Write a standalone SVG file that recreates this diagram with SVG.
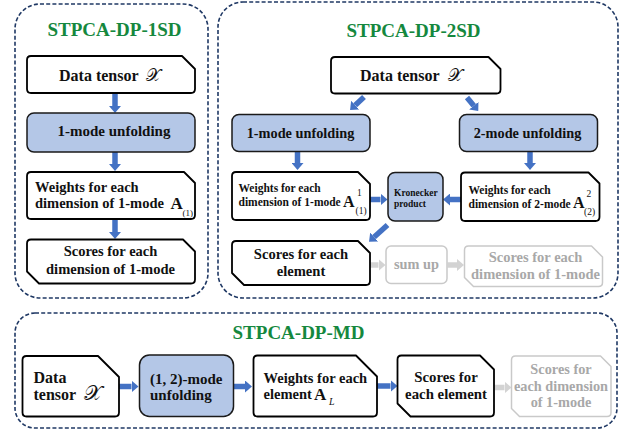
<svg xmlns="http://www.w3.org/2000/svg" width="628" height="435" viewBox="0 0 628 435">
  <defs>
    <marker id="ah" markerUnits="userSpaceOnUse" markerWidth="7" markerHeight="12" viewBox="0 0 7 12" refX="0" refY="6" orient="auto">
      <path d="M0,0 L7,6 L0,12 z" fill="#4472c4"/>
    </marker>
    <marker id="gh" markerUnits="userSpaceOnUse" markerWidth="7" markerHeight="12" viewBox="0 0 7 12" refX="0" refY="6" orient="auto">
      <path d="M0,0 L7,6 L0,12 z" fill="#d3d3d3"/>
    </marker>
  </defs>
  <style>
    .frame { fill: none; stroke: #1f3864; stroke-width: 1.6; stroke-dasharray: 4 2.2; }
    .title { font-family: "Liberation Serif", serif; font-weight: bold; font-size: 19px; fill: #15883e; text-anchor: middle; }
    .box { fill: #ffffff; stroke: #000000; stroke-width: 1.8; stroke-linejoin: round; }
    .proc { fill: #b4c7e7; stroke: #1a1a1a; stroke-width: 1.5; }
    .ghost { fill: #ffffff; stroke: #c9c9c9; stroke-width: 1.5; stroke-linejoin: round; }
    .t { font-family: "Liberation Serif", serif; font-weight: bold; fill: #111111; }
    .mid { text-anchor: middle; }
    .gt { fill: #a8a8a8; }
    .scr { font-family: "DejaVu Serif", "DejaVu Sans", serif; font-weight: normal; }
    .sub { font-weight: normal; }
    .arrow { stroke: #4472c4; stroke-width: 5.5; fill: none; marker-end: url(#ah); }
    .garrow { stroke: #d3d3d3; stroke-width: 5.5; fill: none; marker-end: url(#gh); }
  </style>

  <!-- dashed panels -->
  <g id="panels">
    <rect class="frame" x="15" y="4" width="193" height="294" rx="25"/>
    <rect class="frame" x="218" y="2" width="400" height="296" rx="25"/>
    <rect class="frame" x="15" y="313" width="602" height="115" rx="20"/>
    <text class="title" x="114.5" y="36">STPCA-DP-1SD</text>
    <text class="title" x="413.5" y="37">STPCA-DP-2SD</text>
    <text class="title" x="298.5" y="339">STPCA-DP-MD</text>
  </g>

  <!-- connectors -->
  <g id="connectors">
    <!-- 1SD column -->
    <line class="arrow" x1="115" y1="94" x2="115" y2="106"/>
    <line class="arrow" x1="115" y1="152" x2="115" y2="164"/>
    <line class="arrow" x1="115" y1="220" x2="115" y2="232"/>
    <!-- 2SD -->
    <line class="arrow" x1="364" y1="97" x2="355.2" y2="105.2"/>
    <line class="arrow" x1="467" y1="97.5" x2="473.8" y2="105.7"/>
    <line class="arrow" x1="297.5" y1="152" x2="297.5" y2="163"/>
    <line class="arrow" x1="530" y1="152" x2="530" y2="163"/>
    <line class="arrow" x1="370" y1="199.5" x2="380.5" y2="199.5"/>
    <line class="arrow" x1="461" y1="199.5" x2="450" y2="199.5"/>
    <line class="arrow" x1="387.5" y1="225" x2="374.2" y2="237"/>
    <line class="garrow" x1="370.5" y1="265" x2="378.5" y2="265"/>
    <line class="garrow" x1="447.5" y1="265" x2="457" y2="265"/>
    <!-- MD row -->
    <line class="arrow" x1="119" y1="386.5" x2="131.5" y2="386.5"/>
    <line class="arrow" x1="233.5" y1="386.5" x2="245" y2="386.5"/>
    <line class="arrow" x1="377" y1="386" x2="390.5" y2="386"/>
    <line class="garrow" x1="494.5" y1="387.5" x2="504.5" y2="387.5"/>
  </g>

  <!-- STPCA-DP-1SD -->
  <g id="sd1-data">
    <path class="box" d="M31,56 L182,56 L195,69 L195,89 Q195,93 191,93 L31,93 Q27,93 27,89 L27,60 Q27,56 31,56 Z"/>
    <text class="t" x="59" y="81" font-size="16">Data tensor<tspan class="scr" x="146" font-size="17">𝒳</tspan></text>
  </g>
  <g id="sd1-unfold">
    <rect class="proc" x="27" y="113" width="168" height="39" rx="7"/>
    <text class="t mid" x="114" y="136" font-size="15">1-mode unfolding</text>
  </g>
  <g id="sd1-weights">
    <path class="box" d="M31,172 L184,172 L195,183 L195,215 Q195,219 191,219 L31,219 Q27,219 27,215 L27,176 Q27,172 31,172 Z"/>
    <text class="t" x="35" y="191.5" font-size="14.5">Weights for each</text>
    <text class="t" x="35" y="208" font-size="14.5">dimension of 1-mode</text>
    <text class="t" x="170.5" y="208.5" font-size="17">A</text>
    <text class="t sub" x="182.5" y="215.5" font-size="9">(1)</text>
  </g>
  <g id="sd1-scores">
    <path class="box" d="M31,239.5 L183,239.5 L195,251.5 L195,279.5 Q195,283.5 191,283.5 L39,283.5 L27,271.5 L27,243.5 Q27,239.5 31,239.5 Z"/>
    <text class="t mid" x="110.5" y="256" font-size="14.5">Scores for each</text>
    <text class="t mid" x="110.5" y="273.5" font-size="14.5">dimension of 1-mode</text>
  </g>

  <!-- STPCA-DP-2SD -->
  <g id="sd2-data">
    <path class="box" d="M335,57 L488.5,57 L500.5,69 L500.5,89.5 Q500.5,93.5 496.5,93.5 L335,93.5 Q331,93.5 331,89.5 L331,61 Q331,57 335,57 Z"/>
    <text class="t" x="360" y="81" font-size="16">Data tensor<tspan class="scr" x="447.5" font-size="17">𝒳</tspan></text>
  </g>
  <g id="sd2-unfold1">
    <rect class="proc" x="232" y="114.5" width="138" height="37" rx="7"/>
    <text class="t mid" x="300.5" y="137.5" font-size="14.3">1-mode unfolding</text>
  </g>
  <g id="sd2-unfold2">
    <rect class="proc" x="459.5" y="114.5" width="138" height="37" rx="7"/>
    <text class="t mid" x="527.5" y="137.5" font-size="14.3">2-mode unfolding</text>
  </g>
  <g id="sd2-weights1">
    <path class="box" d="M236,172 L358,172 L370,184 L370,216 Q370,220 366,220 L236,220 Q232,220 232,216 L232,176 Q232,172 236,172 Z"/>
    <text class="t" x="238.5" y="192" font-size="11.5">Weights for each</text>
    <text class="t" x="238.5" y="205.5" font-size="11.5">dimension of 1-mode</text>
    <text class="t" x="343" y="206.5" font-size="16">A</text>
    <text class="t sub" x="357" y="195.5" font-size="9.5">1</text>
    <text class="t sub" x="355.5" y="213.5" font-size="9.5">(1)</text>
  </g>
  <g id="sd2-kron">
    <rect class="proc" x="388" y="172.5" width="55" height="48.5" rx="7"/>
    <text class="t" x="394" y="195.5" font-size="9.5">Kronecker</text>
    <text class="t" x="394" y="207" font-size="9.5">product</text>
  </g>
  <g id="sd2-weights2">
    <path class="box" d="M465,172.5 L588.5,172.5 L599.5,183.5 L599.5,217 Q599.5,221 595.5,221 L465,221 Q461,221 461,217 L461,176.5 Q461,172.5 465,172.5 Z"/>
    <text class="t" x="468.5" y="194" font-size="11.5">Weights for each</text>
    <text class="t" x="468.5" y="207.5" font-size="11.5">dimension of 2-mode</text>
    <text class="t" x="573" y="208" font-size="16">A</text>
    <text class="t sub" x="586.5" y="196.5" font-size="9.5">2</text>
    <text class="t sub" x="584" y="214.5" font-size="9.5">(2)</text>
  </g>
  <g id="sd2-scores">
    <path class="box" d="M236,241 L358,241 L370,253 L370,281 Q370,285 366,285 L244,285 L232,273 L232,245 Q232,241 236,241 Z"/>
    <text class="t mid" x="301" y="259" font-size="14.6">Scores for each</text>
    <text class="t mid" x="301" y="275.5" font-size="14.6">element</text>
  </g>
  <g id="sd2-sum">
    <rect class="ghost" x="386" y="246" width="61" height="37.5" rx="5"/>
    <text class="t mid gt" x="416.5" y="269" font-size="14.3">sum up</text>
  </g>
  <g id="sd2-dimscores">
    <path class="ghost" d="M468.5,246 L591.5,246 L602.5,257 L602.5,282.5 Q602.5,286.5 598.5,286.5 L473.5,286.5 L464.5,277.5 L464.5,250 Q464.5,246 468.5,246 Z"/>
    <text class="t mid gt" x="535.5" y="262" font-size="14.5">Scores for each</text>
    <text class="t mid gt" x="535.5" y="278.5" font-size="14.5">dimension of 1-mode</text>
  </g>

  <!-- STPCA-DP-MD -->
  <g id="md-data">
    <path class="box" d="M26.5,356 L98,356 L119,377 L119,412.5 Q119,416.5 115,416.5 L26.5,416.5 Q22.5,416.5 22.5,412.5 L22.5,360 Q22.5,356 26.5,356 Z"/>
    <text class="t" x="33.5" y="382.5" font-size="16">Data</text>
    <text class="t" x="33.5" y="400" font-size="16">tensor<tspan class="scr" x="84" font-size="21">𝒳</tspan></text>
  </g>
  <g id="md-unfold">
    <rect class="proc" x="139.5" y="355" width="94" height="61.5" rx="10"/>
    <text class="t" x="150" y="383.5" font-size="15">(1, 2)-mode</text>
    <text class="t" x="150" y="400" font-size="15">unfolding</text>
  </g>
  <g id="md-weights">
    <path class="box" d="M257.5,355.5 L356,355.5 L377,376.5 L377,412.5 Q377,416.5 373,416.5 L257.5,416.5 Q253.5,416.5 253.5,412.5 L253.5,359.5 Q253.5,355.5 257.5,355.5 Z"/>
    <text class="t" x="263.5" y="382.5" font-size="14.5">Weights for each</text>
    <text class="t" x="263.5" y="398.5" font-size="14.5">element</text>
    <text class="t" x="314" y="399.5" font-size="17">A</text>
    <text class="t sub" x="329" y="405" font-size="10" font-style="italic">L</text>
  </g>
  <g id="md-scores">
    <path class="box" d="M401.5,355.5 L480,355.5 L494,369.5 L494,412.5 Q494,416.5 490,416.5 L410.5,416.5 L397.5,403.5 L397.5,359.5 Q397.5,355.5 401.5,355.5 Z"/>
    <text class="t mid" x="446" y="381.5" font-size="14.8">Scores for</text>
    <text class="t mid" x="446" y="399" font-size="14.8">each element</text>
  </g>
  <g id="md-dimscores">
    <path class="ghost" d="M515.5,356 L600.5,356 L611,366.5 L611,412.5 Q611,416.5 607,416.5 L519.5,416.5 L511.5,408.5 L511.5,360 Q511.5,356 515.5,356 Z"/>
    <text class="t mid gt" x="561" y="374" font-size="14.3">Scores for</text>
    <text class="t mid gt" x="561" y="390.5" font-size="14.3">each dimension</text>
    <text class="t mid gt" x="561" y="407" font-size="14.3">of 1-mode</text>
  </g>
</svg>
